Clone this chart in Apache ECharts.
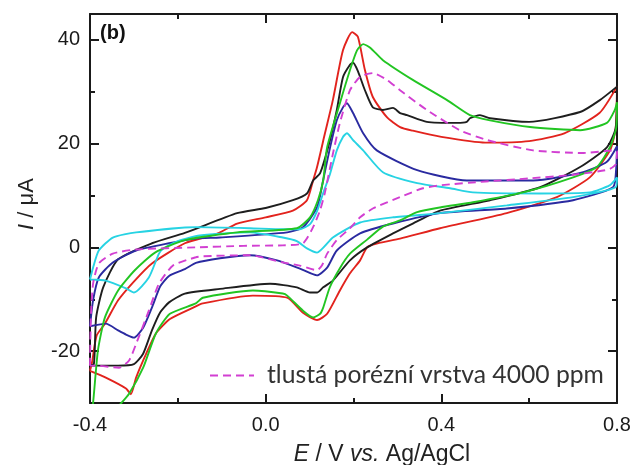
<!DOCTYPE html>
<html>
<head>
<meta charset="utf-8">
<script src="https://cdn.jsdelivr.net/npm/echarts@6/dist/echarts.min.js"></script>
<style>
  html, body { margin: 0; padding: 0; background: #fff; }
  #chart { width: 635px; height: 465px; }
</style>
</head>
<body>
<div id="chart"></div>
<script>
// Cyclic voltammograms: potential E (V vs. Ag/AgCl) and current I (µA).
// Each loop runs forward from -0.4 V to 0.8 V and back again.

const blackE = [-0.4, -0.391, -0.386, -0.37, -0.336, -0.259, -0.184, -0.065, 0.0, 0.062, 0.094, 0.108, 0.124, 0.146, 0.162, 0.176, 0.192, 0.199, 0.21, 0.226, 0.244, 0.267, 0.29, 0.306, 0.322, 0.367, 0.436, 0.458, 0.465, 0.488, 0.511, 0.6, 0.716, 0.761, 0.8,
  0.797, 0.777, 0.716, 0.625, 0.511, 0.397, 0.335, 0.29, 0.231, 0.192, 0.153, 0.131, 0.117, 0.101, 0.071, 0.01, -0.104, -0.184, -0.22, -0.24, -0.259, -0.279, -0.3, -0.336, -0.4];
const blackI = [-22.8, -22.4, -13.5, -7.7, -2.3, 0.8, 2.8, 6.6, 7.6, 9.1, 10.4, 12.9, 14.3, 20.5, 26.5, 32.8, 35.2, 35.6, 34.0, 30.3, 27.0, 26.5, 26.9, 25.9, 25.5, 24.2, 24.0, 24.2, 24.9, 25.5, 24.9, 24.2, 26.1, 28.4, 31.0,
  23.0, 19.3, 15.5, 11.6, 9.1, 7.1, 4.6, 2.7, 0.0, -2.5, -6.4, -7.7, -8.7, -8.7, -7.7, -7.0, -8.0, -8.9, -10.6, -12.5, -16.0, -20.5, -22.5, -22.8, -22.8];

const redE = [-0.4, -0.395, -0.385, -0.366, -0.336, -0.298, -0.259, -0.184, -0.109, -0.065, 0.0, 0.062, 0.094, 0.108, 0.117, 0.135, 0.153, 0.176, 0.197, 0.21, 0.226, 0.244, 0.276, 0.306, 0.335, 0.4, 0.5, 0.6, 0.68, 0.76, 0.8,
  0.797, 0.784, 0.738, 0.663, 0.549, 0.397, 0.306, 0.255, 0.231, 0.215, 0.192, 0.169, 0.14, 0.117, 0.085, 0.049, -0.029, -0.143, -0.165, -0.218, -0.25, -0.272, -0.295, -0.307, -0.318, -0.364, -0.4];
const redI = [-23.8, -22.0, -17.0, -14.7, -10.2, -6.4, -3.1, 0.8, 2.7, 4.6, 5.8, 7.1, 9.1, 12.9, 15.5, 22.0, 28.4, 38.0, 41.5, 40.6, 34.2, 29.0, 25.1, 23.2, 22.5, 21.3, 20.2, 20.5, 22.0, 25.9, 31.0,
  23.0, 18.7, 13.5, 9.7, 6.6, 3.7, 1.7, 0.8, 0.0, -2.5, -5.0, -8.3, -12.8, -14.0, -12.6, -9.7, -9.3, -10.8, -11.6, -13.8, -16.6, -20.5, -25.1, -28.3, -27.2, -25.1, -23.8];

const greenE = [-0.4, -0.393, -0.382, -0.366, -0.336, -0.298, -0.252, -0.184, -0.065, 0.071, 0.101, 0.119, 0.131, 0.14, 0.169, 0.192, 0.208, 0.222, 0.238, 0.267, 0.335, 0.413, 0.465, 0.511, 0.602, 0.716, 0.777, 0.795, 0.8,
  0.798, 0.784, 0.754, 0.7, 0.586, 0.472, 0.397, 0.345, 0.306, 0.267, 0.231, 0.192, 0.169, 0.146, 0.131, 0.124, 0.108, 0.085, 0.049, 0.039, -0.029, -0.143, -0.159, -0.218, -0.25, -0.279, -0.311, -0.334, -0.36, -0.4];
const greenI = [-34.0, -30.0, -19.9, -13.5, -8.3, -4.4, -1.0, 1.4, 2.9, 3.7, 5.8, 9.1, 12.9, 19.3, 27.8, 34.2, 38.0, 39.2, 38.5, 36.1, 32.3, 28.4, 25.5, 24.5, 23.2, 22.6, 24.0, 26.5, 28.0,
  23.0, 19.3, 15.5, 13.5, 10.6, 8.7, 7.7, 6.8, 5.2, 4.0, 1.5, -1.2, -4.0, -7.7, -11.6, -12.8, -13.5, -12.2, -9.3, -8.9, -8.3, -9.7, -10.8, -12.8, -16.6, -23.2, -28.2, -30.5, -33.0, -34.0];

const blueE = [-0.4, -0.393, -0.38, -0.348, -0.295, -0.22, -0.159, -0.104, 0.049, 0.085, 0.117, 0.131, 0.146, 0.162, 0.176, 0.185, 0.199, 0.222, 0.253, 0.345, 0.458, 0.609, 0.723, 0.777, 0.8,
  0.798, 0.791, 0.7, 0.549, 0.397, 0.29, 0.215, 0.162, 0.14, 0.117, 0.078, 0.026, -0.036, -0.104, -0.159, -0.184, -0.22, -0.24, -0.259, -0.279, -0.3, -0.318, -0.336, -0.364, -0.4];
const blueI = [-15.2, -10.2, -5.8, -2.9, -0.6, 0.8, 1.7, 1.9, 2.9, 3.9, 7.7, 13.0, 19.0, 24.5, 27.0, 27.8, 25.9, 22.0, 18.7, 14.9, 12.9, 12.9, 14.5, 16.5, 19.5,
  15.0, 11.6, 9.1, 7.5, 6.6, 4.6, 2.7, -0.6, -3.9, -5.4, -4.1, -2.5, -1.5, -2.1, -3.0, -4.2, -5.5, -7.5, -11.6, -15.5, -17.4, -16.8, -16.0, -14.7, -15.2];

const cyanE = [-0.4, -0.393, -0.38, -0.348, -0.295, -0.159, -0.036, 0.039, 0.078, 0.101, 0.117, 0.131, 0.146, 0.162, 0.176, 0.185, 0.199, 0.222, 0.267, 0.345, 0.42, 0.472, 0.625, 0.738, 0.784, 0.8,
  0.797, 0.7, 0.549, 0.397, 0.29, 0.215, 0.153, 0.117, 0.094, 0.071, 0.039, -0.036, -0.15, -0.2, -0.234, -0.243, -0.266, -0.3, -0.318, -0.364, -0.4];
const cyanI = [-6.2, -3.9, -0.6, 1.9, 2.9, 3.9, 3.7, 3.5, 3.5, 4.5, 7.0, 10.5, 14.0, 18.7, 21.3, 22.0, 20.7, 18.7, 14.5, 12.4, 11.4, 10.6, 10.4, 10.6, 12.0, 13.5,
  11.6, 9.7, 8.1, 6.6, 5.8, 4.8, 1.9, -1.0, -0.2, 1.2, 1.9, 2.9, 2.3, 1.2, -0.3, -1.2, -5.8, -8.7, -7.9, -6.4, -6.2];

const magentaE = [-0.4, -0.398, -0.393, -0.38, -0.348, -0.295, -0.159, -0.05, 0.039, 0.085, 0.108, 0.124, 0.135, 0.153, 0.169, 0.192, 0.215, 0.244, 0.276, 0.306, 0.367, 0.442, 0.504, 0.609, 0.723, 0.795, 0.8,
  0.797, 0.78, 0.7, 0.6, 0.5, 0.4, 0.358, 0.306, 0.244, 0.215, 0.192, 0.162, 0.14, 0.128, 0.117, 0.078, 0.039, -0.036, -0.143, -0.159, -0.211, -0.243, -0.266, -0.295, -0.311, -0.334, -0.386, -0.4];
const magentaI = [-22.8, -13.5, -7.0, -3.1, -1.2, -0.4, 0.0, 0.3, 0.4, 0.8, 3.9, 7.2, 10.6, 18.0, 24.0, 30.3, 32.9, 33.6, 32.3, 30.3, 26.5, 22.6, 20.7, 18.7, 18.2, 18.7, 18.5,
  16.0, 15.0, 14.0, 13.3, 12.7, 12.0, 11.4, 9.7, 7.5, 5.8, 3.7, 1.4, -1.2, -3.5, -4.4, -3.5, -2.9, -1.5, -1.7, -1.9, -3.5, -7.0, -12.2, -18.6, -21.8, -23.2, -22.8, -22.8];

const legendName = 'tlustá porézní vrstva 4000 ppm';

const xMajorTicks = [-0.4, 0.0, 0.4, 0.8];
const xMinorTicks = [-0.2, 0.2, 0.6];
const yMajorTicks = [-20, 0, 20, 40];
const yMinorTicks = [-30, -10, 10, 30];

const axisColor = '#1a1a1a';
const labelFont = 'Liberation Sans';

function pairs(E, I) {
  return E.map((e, k) => [e, I[k]]);
}

function loop(name, E, I, color, z, dashed) {
  return {
    type: 'line',
    name: name,
    data: pairs(E, I),
    symbol: 'none',
    smooth: 0.2,
    clip: true,
    z: z,
    lineStyle: { color: color, width: 1.9, type: dashed ? [8, 5] : 'solid' },
    itemStyle: { color: color }
  };
}

// One axis definition per edge and tick size; the box is drawn by the
// major-tick axes, the minor-tick copies add only the short marks.
function axisDef(dim, position, ticks, len, showLine, showLabel) {
  const isX = dim === 'x';
  return {
    type: 'value',
    position: position,
    min: isX ? -0.4 : -30,
    max: isX ? 0.8 : 45,
    interval: isX ? 0.2 : 10,
    axisLine: { show: showLine, onZero: false, lineStyle: { color: axisColor, width: 2 } },
    axisTick: { show: true, inside: true, length: len, customValues: ticks,
                lineStyle: { color: axisColor, width: 2 } },
    axisLabel: {
      show: showLabel,
      customValues: isX ? xMajorTicks : yMajorTicks,
      margin: isX ? 12 : 10,
      fontFamily: labelFont, fontSize: 20, color: axisColor,
      formatter: v => isX ? Number(v).toFixed(1) : String(Math.round(v))
    },
    splitLine: { show: false }
  };
}

const chart = echarts.init(document.getElementById('chart'), null, { renderer: 'canvas' });

chart.setOption({
  animation: false,
  backgroundColor: '#fff',
  grid: { left: 90, right: 18, top: 14, bottom: 62 },
  xAxis: [
    axisDef('x', 'bottom', xMajorTicks, 9, true, true),
    axisDef('x', 'bottom', xMinorTicks, 5, false, false),
    axisDef('x', 'top', xMajorTicks, 9, true, false),
    axisDef('x', 'top', xMinorTicks, 5, false, false)
  ],
  yAxis: [
    axisDef('y', 'left', yMajorTicks, 9, true, true),
    axisDef('y', 'left', yMinorTicks, 5, false, false),
    axisDef('y', 'right', yMajorTicks, 9, true, false),
    axisDef('y', 'right', yMinorTicks, 5, false, false)
  ],
  legend: {
    data: [legendName],
    left: 209, top: 363,
    padding: 0,
    itemWidth: 44, itemHeight: 12,
    itemStyle: { opacity: 0 },
    textStyle: { fontFamily: 'Lato', fontSize: 24.7, color: '#333', padding: [0, 0, 0, 8] }
  },
  series: [
    loop('red', redE, redI, '#e2231d', 2, false),
    loop('black', blackE, blackI, '#1e1e1e', 3, false),
    loop('blue', blueE, blueI, '#2a2aa0', 4, false),
    loop('cyan', cyanE, cyanI, '#27d3e3', 5, false),
    loop('green', greenE, greenI, '#22c522', 6, false),
    loop(legendName, magentaE, magentaI, '#d23fd2', 7, true)
  ],
  graphic: [
    {
      type: 'text', x: 100, y: 33,
      style: { text: '(b)', font: 'bold 20px "Liberation Sans"', fill: '#111',
               align: 'left', verticalAlign: 'middle' }
    },
    {
      type: 'text', x: 382, y: 455,
      style: {
        text: '{i|E} / V {i|vs.} Ag/AgCl',
        font: '23px "Liberation Sans"', fill: '#222',
        align: 'center', verticalAlign: 'middle',
        rich: { i: { fontStyle: 'italic', fontFamily: 'Liberation Sans', fontSize: 23 } }
      }
    },
    {
      type: 'text', x: 27, y: 204, rotation: Math.PI / 2,
      style: {
        text: '{i|I} / μA',
        font: '22px "Liberation Sans"', fill: '#222',
        align: 'center', verticalAlign: 'middle',
        rich: { i: { fontStyle: 'italic', fontFamily: 'Liberation Sans', fontSize: 22 } }
      }
    }
  ]
});
</script>
</body>
</html>
